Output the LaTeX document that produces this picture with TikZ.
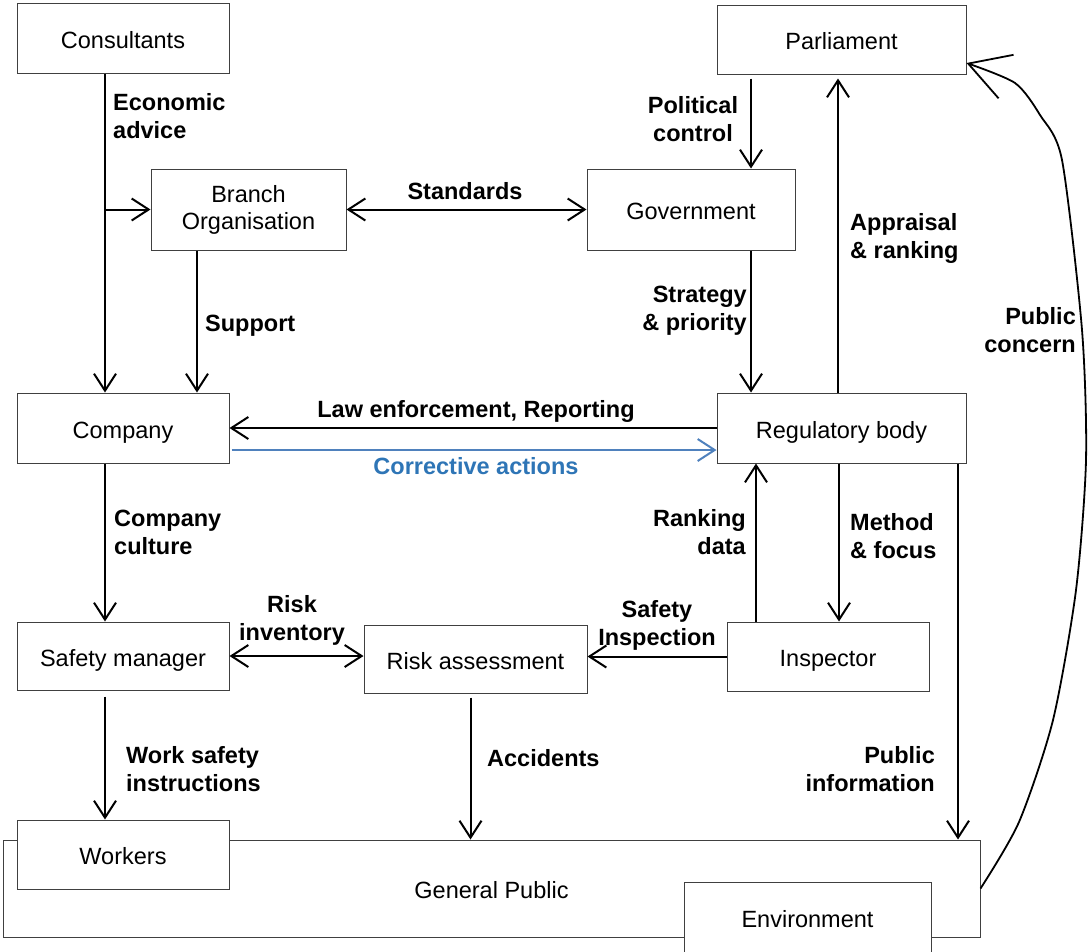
\documentclass[tikz,border=0pt]{standalone}
\usepackage{fontspec}
\setmainfont{Liberation Sans}
\usetikzlibrary{arrows.meta,calc}
\definecolor{corrline}{HTML}{4F81BD}
\definecolor{corrtext}{HTML}{2E75B6}
\newcommand\boxfont{\fontsize{23.5}{27}\selectfont}
\newcommand\labfont{\fontsize{23.5}{28}\selectfont\bfseries}
\begin{document}
\begin{tikzpicture}[x=1pt,y=-1pt,
  box/.style={draw=black!75, line width=1pt, fill=white, inner sep=0pt, align=center, font=\boxfont},
  sbox/.style={box, text height=20pt, text depth=0pt},
  lab/.style={inner sep=0pt, font=\labfont},
  arr/.style={line width=2pt, -{Straight Barb[length=17pt,width=22pt]}},
  darr/.style={line width=2pt, {Straight Barb[length=17pt,width=22pt]}-{Straight Barb[length=17pt,width=22pt]}},
  concern/.style={line width=1.8pt, -{Straight Barb[length=40pt,width=46pt]}}
]
\useasboundingbox (0,0) rectangle (1091,951);
\clip (0,0) rectangle (1091,951);

% boxes
\node[sbox, minimum width=977pt, minimum height=97pt] (gp) at (491.5,888.5) {General Public};
\node[sbox, minimum width=212pt, minimum height=69pt] (workers) at (123,854.5) {Workers};
\node[sbox, minimum width=247pt, minimum height=70pt] (env) at (807.5,917) {Environment};
\node[sbox, minimum width=212pt, minimum height=70pt] (cons) at (123,38) {Consultants};
\node[sbox, minimum width=249pt, minimum height=69pt] (parl) at (841.5,39.5) {Parliament};
\node[box, minimum width=195pt, minimum height=81pt] (branch) at (248.5,209.5) {Branch\\Organisation};
\node[sbox, minimum width=208pt, minimum height=81pt] (gov) at (691,209.5) {Government};
\node[sbox, minimum width=212pt, minimum height=70pt] (comp) at (123,428) {Company};
\node[sbox, minimum width=249pt, minimum height=70pt] (reg) at (841.5,428) {Regulatory body};
\node[sbox, minimum width=212pt, minimum height=68pt] (safety) at (123,656) {Safety manager};
\node[sbox, minimum width=223pt, minimum height=68pt] (risk) at (475.5,659) {Risk assessment};
\node[sbox, minimum width=202pt, minimum height=69pt] (insp) at (828,656.5) {Inspector};

% helper coordinates
\coordinate (c1) at ([xshift=-18pt]cons.south);
\coordinate (b1) at ([xshift=-51.5pt]branch.south);
\coordinate (g1) at ([xshift=60pt]gov.north);
\coordinate (g2) at ([xshift=60pt]gov.south);
\coordinate (r1) at ([xshift=-3.5pt]reg.north);
\coordinate (r2) at ([xshift=116.5pt]reg.south);
\coordinate (i1) at ([xshift=-72pt]insp.north);
\coordinate (i2) at ([xshift=11pt]insp.north);
\coordinate (k1) at ([yshift=-22pt]comp.east);
\coordinate (s1) at ([xshift=-18pt]comp.south);
\coordinate (s2) at ([xshift=-18pt]safety.south);
\coordinate (a1) at ([xshift=-5pt]risk.south);
\coordinate (p1) at ([yshift=-23.5pt]parl.east);

% connectors
\draw[arr] (c1) -- (comp.north -| c1);
\draw[arr] (branch.west -| c1) -- (branch.west);
\draw[arr] (b1) -- (comp.north -| b1);
\draw[darr] (branch.east) -- (gov.west);
\draw[arr, shorten <=4pt] (parl.south -| g1) -- (g1);
\draw[arr] (g2) -- (reg.north -| g2);
\draw[arr, shorten >=4pt] (r1) -- (parl.south -| r1);
\draw[arr] (reg.west) -- (comp.east);
\draw[line width=2pt, draw=corrline, -{Straight Barb[length=17pt,width=22pt]}, shorten <=2pt] (k1) -- (reg.west |- k1);
\draw[arr] (s1) -- (safety.north -| s1);
\draw[arr] (i1) -- (reg.south -| i1);
\draw[arr] (reg.south -| i2) -- (i2);
\draw[arr] (r2) -- (gp.north -| r2);
\draw[arr] (insp.west) -- (risk.east |- insp.west);
\draw[darr] (safety.east) -- (risk.west |- safety.east);
\draw[arr, shorten <=6pt] (s2) -- (workers.north -| s2);
\draw[arr, shorten <=4pt] (a1) -- (gp.north -| a1);
\draw[concern] plot[smooth, tension=0.45] coordinates {(gp.east) (1019,822) (1053,720) (1076,590) (1086,460) (1082,330) (1062,160) (1040,115) (1015,83) (p1)};

% labels
\node[lab, anchor=west, align=left] (l1) at (113,116) {Economic\\advice};
\node[lab, align=center] (l2) at (693,119) {Political\\control};
\node[lab] (l3) at (465,191) {Standards};
\node[lab, anchor=west, align=left] (l4) at (850,238) {Appraisal\\\& ranking};
\node[lab, anchor=west] (l5) at (205,326) {Support};
\node[lab, anchor=east, align=right] (l6) at (747,311) {Strategy\\\& priority};
\node[lab, anchor=east, align=right] (l7) at (1076,330) {Public\\concern};
\node[lab] (l8) at (476,411) {Law enforcement, Reporting};
\node[lab, text=corrtext] (l9) at (476,466) {Corrective actions};
\node[lab, anchor=west, align=left] (l10) at (114,532) {Company\\culture};
\node[lab, anchor=east, align=right] (l11) at (746,532) {Ranking\\data};
\node[lab, anchor=west, align=left] (l12) at (850,536) {Method\\\& focus};
\node[lab, align=center] (l13) at (292,620) {Risk\\inventory};
\node[lab, align=center] (l14) at (657,625) {Safety\\Inspection};
\node[lab, anchor=west, align=left] (l15) at (126,769) {Work safety\\instructions};
\node[lab, anchor=west] (l16) at (487,758) {Accidents};
\node[lab, anchor=east, align=right] (l17) at (935,769) {Public\\information};
\end{tikzpicture}
\end{document}
